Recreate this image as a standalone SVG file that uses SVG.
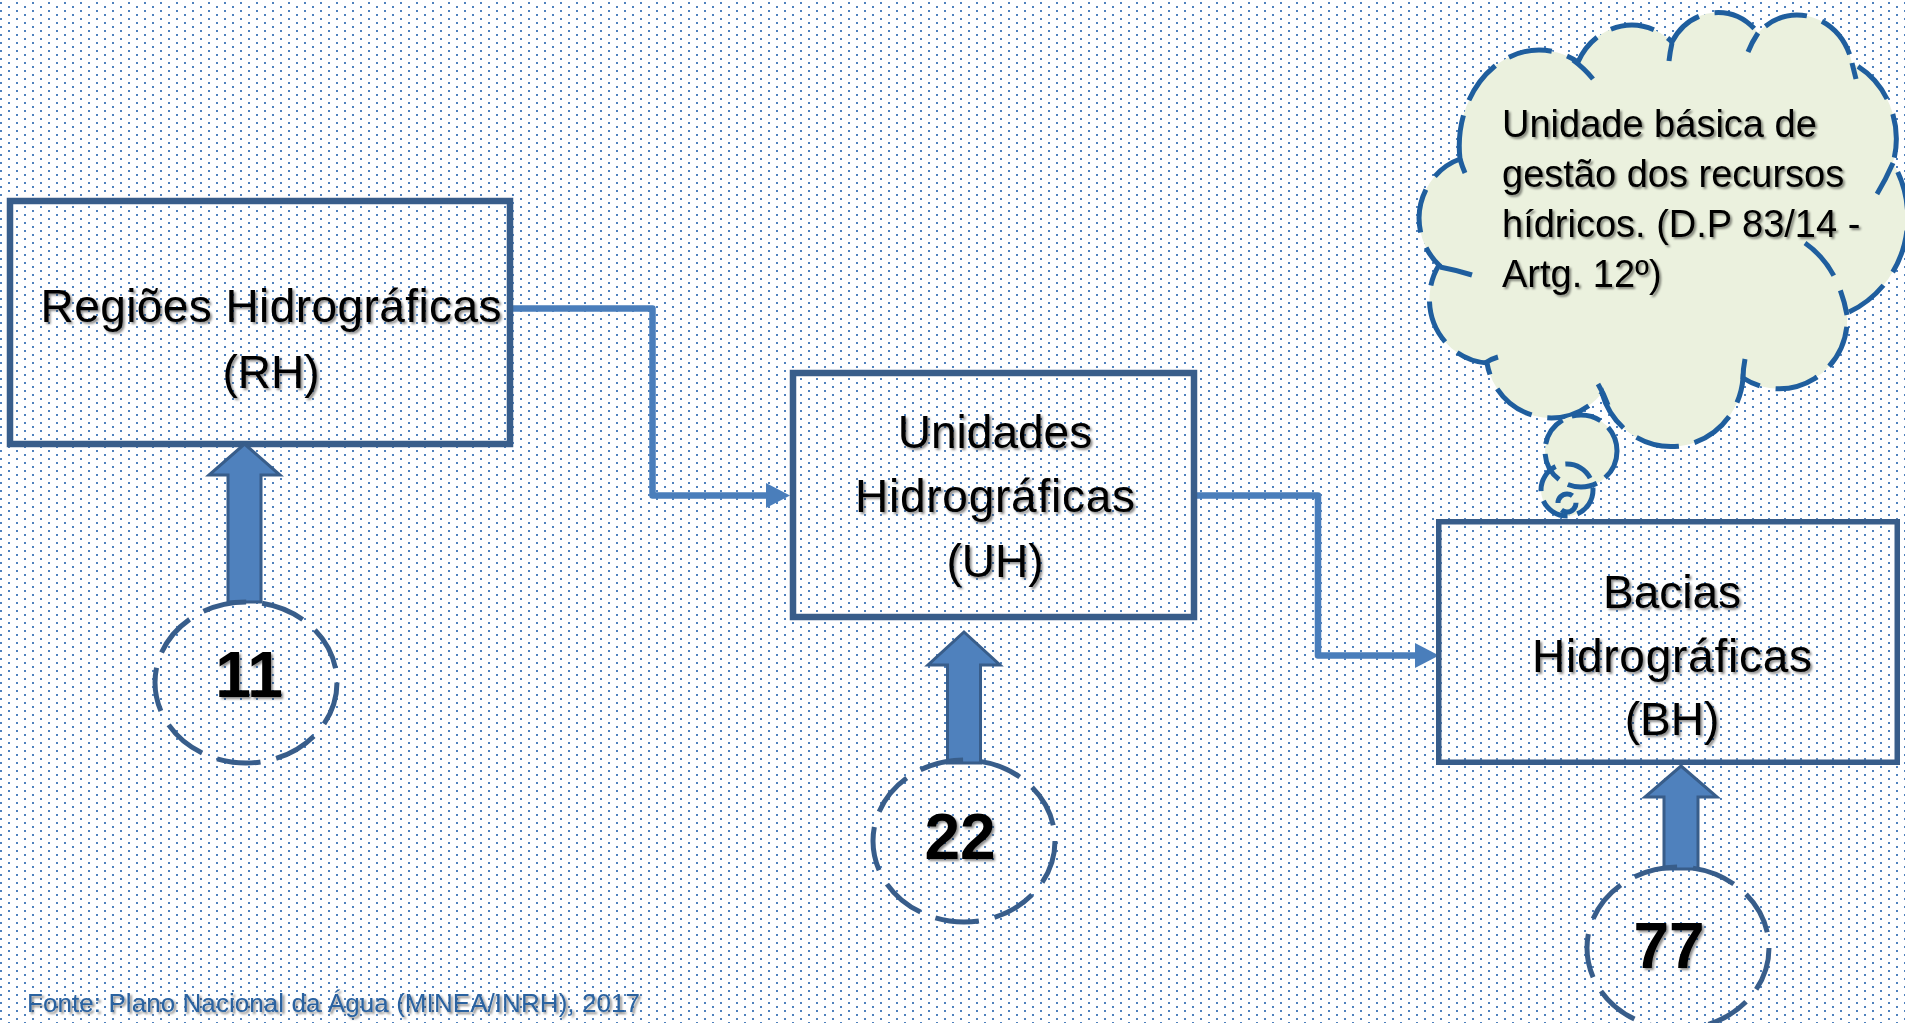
<svg xmlns="http://www.w3.org/2000/svg" width="1905" height="1023" viewBox="0 0 1905 1023">
<defs>
<pattern id="dots" width="16" height="8" patternUnits="userSpaceOnUse">
<rect x="0" y="2" width="2" height="2" fill="#4f81bd"/>
<rect x="8" y="6" width="2" height="2" fill="#4f81bd"/>
</pattern>
<filter id="sh" x="-10%" y="-30%" width="130%" height="160%">
<feDropShadow dx="2" dy="2" stdDeviation="1.3" flood-color="#000" flood-opacity="0.45"/>
</filter>
<marker id="ah" viewBox="0 0 24 25" refX="2" refY="12.5" markerWidth="24" markerHeight="25" markerUnits="userSpaceOnUse" orient="auto">
<path d="M0 0 L24 12.5 L0 25 Z" fill="#4a7ebb"/>
</marker>
</defs>
<style>
.box{fill:none;stroke:#385d8a;stroke-width:6.5}
.lbl{font-family:"Liberation Sans",Arial,sans-serif;font-size:46px;fill:#000;text-anchor:middle;filter:url(#sh)}
.num{font-family:"Liberation Sans",Arial,sans-serif;font-size:64px;font-weight:bold;fill:#000;text-anchor:middle;filter:url(#sh)}
.ring{fill:none;stroke:#385d8a;stroke-width:5;stroke-dasharray:44 16}
.barrow{fill:#4f81bd;stroke:#385d8a;stroke-width:3;stroke-linejoin:miter}
.conn{fill:none;stroke:#4a7ebb;stroke-width:6.5;stroke-linejoin:round}
.cloud{fill:#ebf1de;stroke:#1f5e9e;stroke-width:5;stroke-dasharray:44 16}
.mark{fill:none;stroke:#1f5e9e;stroke-width:5;stroke-dasharray:44 16}
.bub{fill:#ebf1de;stroke:none}
.bubs{fill:none;stroke:#1f5e9e;stroke-width:5;stroke-dasharray:30 10}
.ctext{font-family:"Liberation Sans",Arial,sans-serif;font-size:38px;fill:#000;filter:url(#sh)}
.src{font-family:"Liberation Sans",Arial,sans-serif;font-size:26px;fill:#2a62a0;filter:url(#sh)}
</style>
<rect width="1905" height="1023" fill="#fff"/>
<rect width="1905" height="1023" fill="url(#dots)"/>

<g id="connectors">
<path class="conn" d="M513 308.5 H652.5 V495.5 H768" marker-end="url(#ah)"/>
<path class="conn" d="M1197 495.5 H1318 V655.5 H1417" marker-end="url(#ah)"/>
</g>

<g id="node-rh">
<rect class="box" x="10" y="201" width="500" height="243"/>
<text class="lbl" x="271" y="322" textLength="461">Regiões Hidrográficas</text>
<text class="lbl" x="271" y="388">(RH)</text>
</g>

<g id="node-uh">
<rect class="box" x="793" y="373" width="401" height="244"/>
<text class="lbl" x="995" y="448">Unidades</text>
<text class="lbl" x="995" y="512" textLength="280">Hidrográficas</text>
<text class="lbl" x="995" y="577">(UH)</text>
</g>

<g id="node-bh">
<rect class="box" x="1438.75" y="521.75" width="458.5" height="240.5" style="stroke-width:5.5"/>
<text class="lbl" x="1672" y="608">Bacias</text>
<text class="lbl" x="1672" y="672" textLength="280">Hidrográficas</text>
<text class="lbl" x="1672" y="735">(BH)</text>
</g>

<g id="node-11">
<polygon class="barrow" points="244.5,444 280,475 261,475 261,602 228,602 228,475 209,475"/>
<ellipse class="ring" cx="246" cy="682.5" rx="91" ry="80.5"/>
<text class="num" x="249" y="697">11</text>
</g>

<g id="node-22">
<polygon class="barrow" points="964,632 1000,665 980.5,665 980.5,763 947.5,763 947.5,665 928,665"/>
<ellipse class="ring" cx="964" cy="841" rx="91" ry="81"/>
<text class="num" x="960" y="859">22</text>
</g>

<g id="node-77">
<polygon class="barrow" points="1681,766 1717,797 1698,797 1698,869 1664,869 1664,797 1645,797"/>
<ellipse class="ring" cx="1678" cy="948" rx="91" ry="81"/>
<text class="num" x="1669" y="968">77</text>
</g>

<g id="node-cloud">
<path class="cloud" d="M1460 159 A80 96 0 0 1 1578 62 A60 66 0 0 1 1672 42 A52 56 0 0 1 1758 33 A56 62 0 0 1 1852 63 A78 84 0 0 1 1893 163 A100 104 0 0 1 1847 313 A68 70 0 0 1 1743 378 A72 74 0 0 1 1602 393 A65 66 0 0 1 1487 363 A62 64 0 0 1 1439 265 A61 63 0 0 1 1460 159 Z"/>
<path class="mark" d="M1460 159 Q1462 166 1465 173"/>
<path class="mark" d="M1573 60 Q1584 68 1593 79"/>
<path class="mark" d="M1672 43 Q1670 52 1669 61"/>
<path class="mark" d="M1758 33 Q1752 42 1748 52"/>
<path class="mark" d="M1852 63 Q1854 71 1856 79"/>
<path class="mark" d="M1893 163 Q1886 179 1877 194"/>
<path class="mark" d="M1805 243 Q1838 266 1847 315"/>
<path class="mark" d="M1743 379 Q1743 369 1745 359"/>
<path class="mark" d="M1598 384 Q1604 394 1608 405"/>
<path class="mark" d="M1485 363 Q1491 359 1498 357"/>
<path class="mark" d="M1440 267 Q1456 270 1472 275"/>
<circle class="bub" cx="1581" cy="451" r="36"/>
<circle class="bub" cx="1567" cy="490" r="26"/>
<circle class="bubs" cx="1581" cy="451" r="36"/>
<circle class="bubs" cx="1567" cy="490" r="26"/>
<circle class="bubs" cx="1567" cy="503" r="9" style="stroke-dasharray:20 8"/>
<text class="ctext" x="1502" y="137">Unidade básica de</text>
<text class="ctext" x="1502" y="187">gestão dos recursos</text>
<text class="ctext" x="1502" y="237">hídricos. (D.P 83/14 -</text>
<text class="ctext" x="1502" y="287">Artg. 12º)</text>
</g>

<text id="source" class="src" x="27" y="1012" textLength="613">Fonte: Plano Nacional da Água (MINEA/INRH), 2017</text>
</svg>
